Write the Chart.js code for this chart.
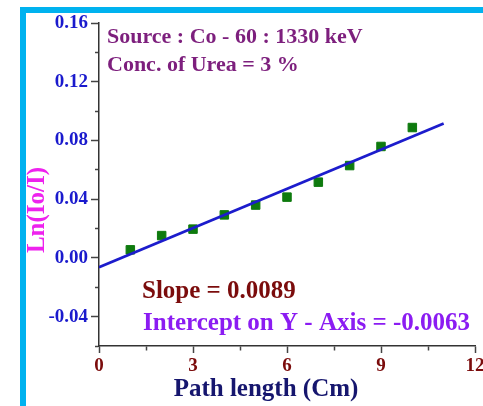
<!DOCTYPE html>
<html>
<head>
<meta charset="utf-8">
<script src="https://cdn.jsdelivr.net/npm/chart.js@4.4.0/dist/chart.umd.min.js"></script>
<style>
  html, body { margin: 0; padding: 0; background: #fff; }
  #wrap { position: relative; width: 483px; height: 406px; overflow: hidden; }
  #chart { position: absolute; left: 0; top: 0; }
  #frame {
    position: absolute; left: 20px; top: 7px; right: -10px; bottom: -10px;
    border-left: 6px solid #00b2ef; border-top: 6px solid #00b2ef;
    pointer-events: none;
  }
</style>
</head>
<body>
<div id="wrap">
  <canvas id="chart" width="483" height="406"></canvas>
  <div id="frame"></div>
</div>
<script>
// measured points
const pathLength = [1, 2, 3, 4, 5, 6, 7, 8, 9, 10];
const lnRatio = [0.0055, 0.0152, 0.0196, 0.0293, 0.0360, 0.0414, 0.0516, 0.0629, 0.0759, 0.0888];

// fitted line (slope 0.0089, intercept -0.0063)
const fitX = [0, 11];
const fitY = [-0.0063, 0.0916];

// axis ticks
const xMajorTicks = [0, 3, 6, 9, 12];
const yMajorTicks = [-0.04, 0.00, 0.04, 0.08, 0.12, 0.16];

const notes = {
    source: "Source : Co - 60 : 1330 keV",
    conc: "Conc. of Urea = 3 %",
    slope: "Slope = 0.0089",
    intercept: "Intercept on Y - Axis = -0.0063"
};

const FONT = '"Liberation Serif", "Times New Roman", serif';

const isMajor = (list, v) => list.some(t => Math.abs(t - v) < 1e-6);

/* ---- texts drawn on top of the chart ---- */
const textPlugin = {
    id: "notes",
    afterDraw(chart) {
        const ctx = chart.ctx;
        ctx.save();
        ctx.textBaseline = "middle";
        ctx.textAlign = "left";

        ctx.font = "bold 22px " + FONT;
        ctx.fillStyle = "#7d1f7d";
        ctx.fillText(notes.source, 107, 37);
        ctx.fillText(notes.conc, 107, 65);

        ctx.font = "bold 25px " + FONT;
        ctx.fillStyle = "#7b0c0c";
        ctx.fillText(notes.slope, 142, 292);
        ctx.fillStyle = "#8b1cf2";
        ctx.fillText(notes.intercept, 143, 324);

        // axis titles
        ctx.textAlign = "center";
        ctx.fillStyle = "#16166e";
        ctx.fillText("Path length (Cm)", 266, 390);

        ctx.translate(38, 210);
        ctx.rotate(-Math.PI / 2);
        ctx.fillStyle = "#ee22ee";
        ctx.fillText("Ln(Io/I)", 0, 0);
        ctx.restore();
    }
};

new Chart(document.getElementById("chart"), {
    type: "scatter",
    data: {
        datasets: [
            {
                type: "line",
                data: fitX.map((x, i) => ({ x: x, y: fitY[i] })),
                borderColor: "#1c1ccc",
                borderWidth: 2.8,
                pointRadius: 0,
                order: 0
            },
            {
                data: pathLength.map((x, i) => ({ x: x, y: lnRatio[i] })),
                pointStyle: "rect",
                pointRadius: 6,
                backgroundColor: "#0e7a0e",
                borderColor: "#0e7a0e",
                borderWidth: 1,
                order: 1
            }
        ]
    },
    options: {
        responsive: false,
        animation: false,
        layout: {
            padding: { left: 0, right: 8, top: 23, bottom: 0 }
        },
        plugins: {
            legend: { display: false },
            tooltip: { enabled: false }
        },
        scales: {
            x: {
                type: "linear",
                min: 0,
                max: 12,
                afterFit(s) { s.height = 60; s.paddingLeft = 0; s.paddingRight = 0; },
                border: { display: true, color: "#333", width: 1.5 },
                grid: {
                    drawOnChartArea: false,
                    tickLength: 7,
                    tickColor: "#444",
                    tickWidth: 1.5,
                    // bottom ticks run from the axis outwards: keep a short dash at the axis
                    tickBorderDash: c => isMajor(xMajorTicks, c.tick.value) ? [] : [4, 10],
                    tickBorderDashOffset: 0
                },
                ticks: {
                    stepSize: 1.5,
                    autoSkip: false,
                    maxRotation: 0,
                    padding: 2,
                    color: "#7b0c0c",
                    font: { family: FONT, size: 19, weight: "bold" },
                    callback: v => isMajor(xMajorTicks, v) ? String(v) : ""
                }
            },
            y: {
                type: "linear",
                min: -0.06,
                max: 0.16,
                afterFit(s) { s.width = 99; s.paddingTop = 0; s.paddingBottom = 0; },
                border: { display: true, color: "#333", width: 1.5 },
                grid: {
                    drawOnChartArea: false,
                    tickLength: 8,
                    tickColor: "#444",
                    tickWidth: 1.5,
                    // left ticks run towards the axis: gap first, dash at the axis
                    tickBorderDash: c => isMajor(yMajorTicks, c.tick.value) ? [] : [4, 4],
                    tickBorderDashOffset: c => isMajor(yMajorTicks, c.tick.value) ? 0 : 4
                },
                ticks: {
                    stepSize: 0.02,
                    autoSkip: false,
                    padding: 3,
                    color: "#1a1acd",
                    font: { family: FONT, size: 19, weight: "bold" },
                    callback: v => isMajor(yMajorTicks, v) ? v.toFixed(2) : ""
                }
            }
        }
    },
    plugins: [textPlugin]
});
</script>
</body>
</html>
